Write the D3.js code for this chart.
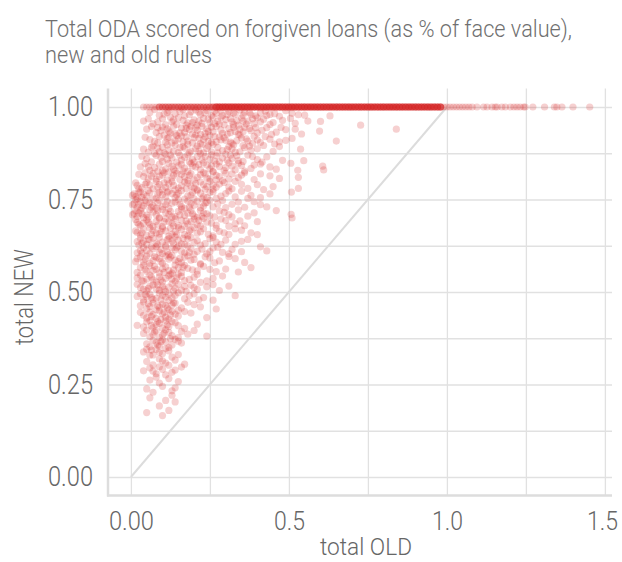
<!DOCTYPE html>
<html><head><meta charset="utf-8">
<script src="https://cdn.jsdelivr.net/npm/d3@7/dist/d3.min.js"></script>
<style>
html,body{margin:0;padding:0;background:#fff;}
svg text{font-family:Roboto,"Liberation Sans Narrow",sans-serif;font-weight:300;fill:#666;}
</style></head>
<body>
<svg id="chart" width="622" height="562"></svg>
<script>
// ---- data ----
const titleLines = ["Total ODA scored on forgiven loans (as % of face value),", "new and old rules"];
const xTickValues = [0, 0.5, 1.0, 1.5];
const xTickLabels = ["0.00", "0.5", "1.0", "1.5"];
const xMinorTicks = [0.25, 0.75, 1.25];
const yTickValues = [0, 0.25, 0.5, 0.75, 1.0];
const yTickLabels = ["0.00", "0.25", "0.50", "0.75", "1.00"];
const yMinorTicks = [0.125, 0.375, 0.625, 0.875];
const diagonal = [[0, 0], [1, 1]];

// loans scored at 100% under the new rules: old-rule score and how many loans share it
const rowOld = [0.04,0.05,0.06,0.07,0.08,
  0.09,0.10,0.11,0.12,0.13,0.14,0.15,0.16,0.17,0.18,0.19,0.20,0.21,0.22,0.23,0.24,0.25,0.26,
  0.27,0.28,0.29,0.30,0.31,0.32,0.33,0.34,0.35,0.36,0.37,0.38,0.39,0.40,0.41,0.42,0.43,0.44,0.45,0.46,0.47,0.48,0.49,0.50,
  0.51,0.52,0.53,0.54,0.55,0.56,0.57,0.58,0.59,0.60,0.61,0.62,0.63,0.64,0.65,0.66,0.67,0.68,0.69,0.70,0.71,0.72,0.73,0.74,
  0.75,0.76,0.77,0.78,0.79,0.80,0.81,0.82,0.83,0.84,0.85,0.86,0.87,0.88,0.89,0.90,0.91,0.92,0.93,0.94,0.95,0.96,0.97,0.98,
  0.99,1.00,1.01,1.02,1.03,1.04,1.05,1.06,1.07,1.08,
  1.095,1.116,1.127,1.143,1.153,1.159,1.174,1.185,1.201,1.212,1.222,1.232,1.243,1.248,1.272,1.309,1.340,1.348,1.364,1.399,1.452];
const rowCount = [1,1,1,1,1,
  3,3,3,3,3,3,3,3,3,3,3,3,3,3,3,3,3,3,
  6,6,6,6,6,6,6,6,6,6,6,6,6,6,6,6,6,6,6,6,6,6,6,6,
  6,6,6,6,6,6,6,6,6,6,6,6,6,6,6,6,6,6,6,6,6,6,6,6,
  6,6,6,6,6,6,6,6,6,6,6,6,6,6,6,6,6,6,6,6,6,6,6,6,
  1,1,1,1,1,1,1,1,1,1,
  1,1,1,1,1,1,1,1,1,1,1,1,1,1,1,1,1,1,1,1,1];

// loans scored below 100% under the new rules: [old score, new score]
const cloudPoints = [
[0.06,0.985],[0.09,0.978],[0.12,0.99],[0.14,0.982],[0.17,0.976],[0.19,0.987],[0.22,0.98],[0.24,0.991],[0.27,0.983],[0.29,0.977],[0.31,0.988],[0.33,0.981],[0.36,0.986],[0.38,0.979],[0.41,0.984],[0.44,0.98],[0.47,0.975],[0.51,0.983],[0.55,0.978],[0.63,0.976],
[0.04,0.962],[0.07,0.955],[0.10,0.968],[0.11,0.952],[0.13,0.96],[0.15,0.971],[0.18,0.957],[0.20,0.965],[0.21,0.951],[0.23,0.969],[0.25,0.958],[0.26,0.973],[0.28,0.954],[0.30,0.966],[0.32,0.96],[0.34,0.951],[0.35,0.97],[0.37,0.962],[0.39,0.955],[0.42,0.967],[0.45,0.958],[0.48,0.964],[0.52,0.956],[0.60,0.961],[0.727,0.951],
[0.05,0.94],[0.08,0.931],[0.10,0.946],[0.12,0.935],[0.14,0.928],[0.16,0.943],[0.17,0.932],[0.19,0.948],[0.21,0.937],[0.22,0.926],[0.24,0.941],[0.26,0.933],[0.27,0.947],[0.29,0.929],[0.31,0.942],[0.33,0.934],[0.34,0.926],[0.36,0.945],[0.38,0.936],[0.40,0.93],[0.43,0.944],[0.46,0.932],[0.49,0.939],[0.54,0.927],[0.597,0.935],[0.84,0.94],
[0.06,0.912],[0.09,0.92],[0.11,0.905],[0.12,0.918],[0.13,0.903],[0.15,0.914],[0.16,0.922],[0.18,0.908],[0.20,0.917],[0.22,0.901],[0.23,0.912],[0.25,0.923],[0.27,0.906],[0.28,0.919],[0.30,0.91],[0.32,0.902],[0.35,0.916],[0.37,0.908],[0.39,0.921],[0.41,0.904],[0.44,0.913],[0.47,0.906],[0.51,0.915],[0.65,0.908],
[0.04,0.886],[0.07,0.894],[0.09,0.879],[0.10,0.891],[0.12,0.884],[0.14,0.897],[0.15,0.877],[0.17,0.889],[0.19,0.881],[0.21,0.895],[0.23,0.876],[0.24,0.888],[0.26,0.899],[0.29,0.882],[0.31,0.893],[0.33,0.878],[0.36,0.89],[0.38,0.883],[0.42,0.896],[0.45,0.88],[0.537,0.886],
[0.05,0.86],[0.08,0.869],[0.10,0.853],[0.11,0.872],[0.13,0.862],[0.16,0.857],[0.18,0.871],[0.20,0.851],[0.21,0.866],[0.22,0.874],[0.25,0.859],[0.27,0.868],[0.28,0.852],[0.30,0.873],[0.32,0.861],[0.34,0.855],[0.37,0.87],[0.40,0.858],[0.43,0.865],[0.48,0.856],[0.547,0.855],
[0.03,0.838],[0.06,0.829],[0.09,0.845],[0.11,0.833],[0.12,0.848],[0.14,0.827],[0.15,0.841],[0.17,0.835],[0.19,0.847],[0.22,0.831],[0.24,0.843],[0.26,0.826],[0.28,0.839],[0.31,0.849],[0.33,0.83],[0.35,0.842],[0.38,0.834],[0.41,0.846],[0.46,0.832],[0.506,0.848],[0.528,0.829],[0.607,0.84],[0.61,0.83],
[0.04,0.812],[0.07,0.821],[0.08,0.805],[0.10,0.816],[0.12,0.824],[0.13,0.808],[0.16,0.818],[0.18,0.802],[0.19,0.82],[0.21,0.81],[0.23,0.823],[0.25,0.806],[0.27,0.815],[0.29,0.801],[0.32,0.819],[0.34,0.809],[0.36,0.822],[0.39,0.804],[0.44,0.814],[0.53,0.81],
[0.02,0.788],[0.05,0.796],[0.07,0.779],[0.09,0.791],[0.11,0.783],[0.13,0.798],[0.14,0.776],[0.16,0.787],[0.18,0.794],[0.20,0.781],[0.22,0.797],[0.24,0.785],[0.26,0.778],[0.28,0.792],[0.31,0.784],[0.33,0.799],[0.37,0.78],[0.40,0.79],[0.42,0.777],[0.53,0.78],
[0.01,0.765],[0.02,0.752],[0.03,0.771],[0.05,0.759],[0.06,0.768],[0.08,0.754],[0.10,0.763],[0.12,0.773],[0.14,0.756],[0.15,0.767],[0.17,0.751],[0.19,0.762],[0.21,0.774],[0.23,0.758],[0.25,0.769],[0.27,0.753],[0.30,0.766],[0.33,0.757],[0.35,0.772],[0.38,0.761],[0.41,0.755],[0.508,0.77],
[0.01,0.738],[0.02,0.729],[0.03,0.745],[0.04,0.733],[0.06,0.741],[0.08,0.727],[0.09,0.748],[0.11,0.736],[0.12,0.726],[0.14,0.743],[0.16,0.731],[0.18,0.746],[0.20,0.735],[0.22,0.728],[0.24,0.742],[0.26,0.73],[0.29,0.747],[0.32,0.737],[0.36,0.729],[0.39,0.744],[0.43,0.73],
[0.01,0.712],[0.02,0.704],[0.03,0.72],[0.05,0.708],[0.07,0.716],[0.09,0.701],[0.10,0.723],[0.12,0.71],[0.13,0.703],[0.15,0.718],[0.17,0.707],[0.19,0.721],[0.21,0.702],[0.23,0.714],[0.25,0.706],[0.28,0.719],[0.31,0.709],[0.34,0.722],[0.37,0.705],[0.46,0.72],[0.507,0.71],[0.51,0.70],
[0.02,0.688],[0.03,0.679],[0.05,0.695],[0.06,0.683],[0.08,0.691],[0.10,0.677],[0.11,0.698],[0.13,0.686],[0.15,0.68],[0.16,0.694],[0.18,0.684],[0.20,0.697],[0.22,0.678],[0.24,0.689],[0.27,0.681],[0.30,0.693],[0.33,0.685],[0.36,0.679],[0.40,0.69],
[0.02,0.661],[0.04,0.67],[0.05,0.653],[0.07,0.666],[0.09,0.657],[0.10,0.672],[0.12,0.651],[0.14,0.663],[0.15,0.674],[0.17,0.655],[0.19,0.668],[0.21,0.659],[0.23,0.671],[0.26,0.652],[0.28,0.664],[0.31,0.656],[0.35,0.667],[0.38,0.66],[0.40,0.655],
[0.02,0.636],[0.03,0.645],[0.05,0.628],[0.06,0.641],[0.08,0.632],[0.09,0.647],[0.11,0.626],[0.13,0.638],[0.14,0.649],[0.16,0.63],[0.18,0.643],[0.20,0.634],[0.22,0.627],[0.25,0.644],[0.27,0.635],[0.30,0.64],[0.33,0.629],[0.37,0.642],
[0.03,0.612],[0.04,0.62],[0.06,0.604],[0.07,0.617],[0.09,0.608],[0.11,0.622],[0.12,0.601],[0.14,0.614],[0.15,0.624],[0.17,0.606],[0.19,0.618],[0.21,0.61],[0.24,0.603],[0.26,0.619],[0.29,0.607],[0.32,0.615],[0.35,0.609],[0.41,0.622],[0.43,0.611],
[0.02,0.59],[0.04,0.581],[0.05,0.597],[0.07,0.585],[0.08,0.593],[0.10,0.578],[0.12,0.589],[0.13,0.599],[0.15,0.582],[0.17,0.594],[0.19,0.586],[0.22,0.577],[0.25,0.592],[0.28,0.584],[0.31,0.596],[0.36,0.58],
[0.03,0.566],[0.05,0.556],[0.06,0.571],[0.08,0.561],[0.09,0.552],[0.11,0.568],[0.12,0.558],[0.14,0.573],[0.16,0.553],[0.18,0.564],[0.21,0.557],[0.23,0.569],[0.27,0.555],[0.30,0.562],[0.38,0.566],
[0.02,0.538],[0.04,0.529],[0.06,0.546],[0.07,0.533],[0.09,0.541],[0.10,0.527],[0.12,0.544],[0.13,0.535],[0.15,0.548],[0.17,0.531],[0.20,0.54],[0.22,0.526],[0.26,0.537],[0.29,0.543],
[0.03,0.512],[0.05,0.503],[0.07,0.519],[0.08,0.508],[0.10,0.515],[0.11,0.501],[0.13,0.522],[0.14,0.51],[0.16,0.505],[0.19,0.518],[0.21,0.507],[0.24,0.514],[0.28,0.504],[0.31,0.516],
[0.02,0.488],[0.04,0.479],[0.06,0.494],[0.08,0.483],[0.09,0.497],[0.11,0.486],[0.12,0.477],[0.14,0.491],[0.17,0.482],[0.20,0.495],[0.23,0.485],[0.26,0.478],[0.33,0.49],
[0.03,0.463],[0.05,0.455],[0.07,0.47],[0.09,0.459],[0.10,0.467],[0.12,0.452],[0.13,0.465],[0.16,0.457],[0.18,0.472],[0.22,0.46],[0.27,0.454],
[0.04,0.437],[0.06,0.446],[0.08,0.429],[0.10,0.441],[0.11,0.432],[0.13,0.448],[0.15,0.435],[0.19,0.443],[0.24,0.431],
[0.02,0.41],[0.05,0.419],[0.07,0.404],[0.09,0.415],[0.11,0.422],[0.12,0.407],[0.14,0.417],[0.17,0.402],[0.21,0.413],
[0.04,0.388],[0.06,0.379],[0.08,0.395],[0.10,0.384],[0.12,0.391],[0.15,0.377],[0.18,0.386],[0.20,0.396],[0.24,0.381],
[0.05,0.36],[0.07,0.369],[0.09,0.354],[0.11,0.365],[0.13,0.357],[0.14,0.372],[0.16,0.362],
[0.04,0.338],[0.06,0.329],[0.08,0.345],[0.10,0.334],[0.12,0.341],[0.15,0.331],
[0.05,0.312],[0.07,0.303],[0.09,0.319],[0.11,0.308],[0.14,0.316],[0.17,0.305],
[0.04,0.287],[0.06,0.295],[0.08,0.279],[0.10,0.291],[0.13,0.283],[0.16,0.297],
[0.06,0.262],[0.08,0.27],[0.09,0.254],[0.12,0.266],[0.15,0.258],
[0.05,0.238],[0.07,0.229],[0.10,0.245],[0.13,0.233],[0.14,0.241],
[0.06,0.214],[0.11,0.207],[0.13,0.221],[0.14,0.203],
[0.05,0.174],[0.09,0.192],[0.10,0.166],[0.12,0.18]
];

// second pass over the denser parts of the cloud
const cloudPointsDense = [
[0.075,0.993],[0.105,0.981],[0.155,0.988],[0.185,0.979],[0.205,0.992],[0.235,0.984],[0.255,0.977],[0.285,0.99],[0.305,0.98],[0.345,0.992],[0.375,0.985],[0.395,0.976],[0.425,0.989],[0.455,0.982],[0.49,0.99],[0.53,0.979],
[0.055,0.968],[0.085,0.96],[0.125,0.972],[0.145,0.953],[0.165,0.964],[0.195,0.958],[0.225,0.956],[0.245,0.967],[0.275,0.962],[0.295,0.952],[0.315,0.969],[0.335,0.963],[0.365,0.954],[0.385,0.968],[0.41,0.96],[0.44,0.953],[0.505,0.969],[0.56,0.962],
[0.065,0.947],[0.095,0.936],[0.115,0.941],[0.135,0.948],[0.155,0.93],[0.185,0.939],[0.205,0.944],[0.235,0.929],[0.255,0.946],[0.285,0.938],[0.305,0.927],[0.325,0.945],[0.355,0.933],[0.375,0.942],[0.415,0.937],[0.445,0.926],[0.475,0.945],[0.52,0.94],
[0.045,0.918],[0.075,0.907],[0.105,0.924],[0.14,0.909],[0.175,0.919],[0.195,0.903],[0.215,0.915],[0.245,0.907],[0.265,0.92],[0.295,0.917],[0.315,0.905],[0.345,0.924],[0.365,0.914],[0.385,0.902],[0.425,0.92],[0.455,0.9],[0.49,0.91],
[0.055,0.878],[0.085,0.889],[0.115,0.897],[0.135,0.88],[0.165,0.893],[0.185,0.876],[0.205,0.887],[0.225,0.898],[0.255,0.879],[0.275,0.891],[0.305,0.885],[0.325,0.898],[0.345,0.879],[0.375,0.894],[0.40,0.887],[0.47,0.893],
[0.035,0.867],[0.065,0.852],[0.095,0.863],[0.125,0.87],[0.145,0.851],[0.17,0.864],[0.195,0.858],[0.235,0.866],[0.265,0.854],[0.29,0.862],[0.315,0.87],[0.355,0.853],[0.385,0.866],[0.415,0.851],
[0.045,0.847],[0.075,0.836],[0.10,0.828],[0.13,0.84],[0.16,0.845],[0.18,0.826],[0.205,0.838],[0.23,0.849],[0.25,0.833],[0.27,0.846],[0.295,0.828],[0.32,0.84],[0.36,0.827],[0.39,0.843],[0.44,0.838],
[0.025,0.818],[0.055,0.806],[0.09,0.813],[0.115,0.803],[0.145,0.821],[0.17,0.811],[0.20,0.803],[0.22,0.817],[0.24,0.808],[0.26,0.824],[0.28,0.812],[0.31,0.805],[0.35,0.816],[0.41,0.819],[0.47,0.807],
[0.015,0.795],[0.035,0.782],[0.06,0.789],[0.08,0.799],[0.10,0.776],[0.12,0.792],[0.15,0.781],[0.17,0.797],[0.19,0.786],[0.21,0.777],[0.23,0.79],[0.25,0.799],[0.27,0.783],[0.295,0.796],[0.32,0.779],[0.35,0.791],[0.45,0.785],
[0.015,0.758],[0.025,0.769],[0.04,0.764],[0.07,0.751],[0.09,0.77],[0.11,0.757],[0.13,0.766],[0.16,0.774],[0.18,0.76],[0.20,0.752],[0.22,0.767],[0.24,0.755],[0.26,0.771],[0.285,0.759],[0.31,0.773],[0.37,0.753],[0.44,0.765],
[0.015,0.749],[0.025,0.737],[0.035,0.727],[0.05,0.74],[0.07,0.733],[0.10,0.731],[0.13,0.74],[0.15,0.749],[0.17,0.726],[0.19,0.739],[0.21,0.745],[0.23,0.733],[0.25,0.748],[0.275,0.738],[0.30,0.728],[0.34,0.743],[0.41,0.736],
[0.015,0.72],[0.025,0.713],[0.04,0.701],[0.06,0.722],[0.08,0.709],[0.11,0.714],[0.14,0.704],[0.16,0.724],[0.18,0.713],[0.20,0.705],[0.22,0.72],[0.24,0.711],[0.265,0.703],[0.295,0.715],[0.32,0.703],[0.39,0.714],
[0.015,0.696],[0.04,0.686],[0.07,0.677],[0.09,0.699],[0.12,0.69],[0.14,0.698],[0.17,0.678],[0.19,0.69],[0.21,0.682],[0.23,0.699],[0.255,0.686],[0.285,0.697],[0.31,0.678],[0.345,0.692],
[0.03,0.654],[0.06,0.673],[0.08,0.66],[0.11,0.665],[0.13,0.656],[0.16,0.669],[0.18,0.652],[0.20,0.674],[0.22,0.663],[0.245,0.656],[0.27,0.672],[0.295,0.66],[0.33,0.671],
[0.025,0.627],[0.04,0.638],[0.07,0.646],[0.10,0.635],[0.12,0.644],[0.15,0.64],[0.17,0.628],[0.19,0.648],[0.21,0.639],[0.235,0.631],[0.26,0.647],[0.285,0.629],[0.35,0.637],
[0.02,0.606],[0.05,0.613],[0.08,0.623],[0.10,0.604],[0.13,0.619],[0.16,0.61],[0.18,0.624],[0.20,0.602],[0.225,0.616],[0.25,0.609],[0.275,0.621],[0.31,0.603],
[0.03,0.595],[0.06,0.578],[0.09,0.59],[0.11,0.597],[0.14,0.586],[0.16,0.579],[0.18,0.598],[0.20,0.588],[0.235,0.595],[0.265,0.579],[0.33,0.59],
[0.02,0.553],[0.04,0.572],[0.07,0.558],[0.10,0.563],[0.13,0.551],[0.15,0.566],[0.17,0.572],[0.195,0.56],[0.22,0.574],[0.25,0.561],[0.34,0.554],
[0.03,0.546],[0.05,0.535],[0.08,0.527],[0.11,0.537],[0.14,0.529],[0.16,0.542],[0.185,0.534],[0.21,0.548],[0.24,0.53],
[0.02,0.521],[0.04,0.508],[0.06,0.516],[0.09,0.505],[0.12,0.513],[0.15,0.521],[0.175,0.502],[0.20,0.512],[0.26,0.52],
[0.03,0.496],[0.05,0.487],[0.07,0.48],[0.10,0.491],[0.13,0.484],[0.15,0.498],[0.185,0.49],[0.215,0.479],
[0.04,0.473],[0.06,0.461],[0.08,0.452],[0.11,0.464],[0.14,0.47],[0.15,0.451],[0.20,0.466],
[0.03,0.445],[0.05,0.43],[0.07,0.439],[0.09,0.449],[0.12,0.427],[0.14,0.44],[0.17,0.447],
[0.04,0.406],[0.06,0.423],[0.08,0.412],[0.10,0.403],[0.13,0.42],[0.15,0.409],
[0.05,0.397],[0.07,0.386],[0.09,0.377],[0.11,0.398],[0.13,0.382],[0.16,0.393],
[0.06,0.352],[0.08,0.363],[0.10,0.371],[0.12,0.35],[0.15,0.367],
[0.05,0.345],[0.07,0.33],[0.09,0.337],[0.11,0.347],[0.13,0.324],[0.10,0.314],[0.12,0.302],
[0.07,0.286],[0.09,0.298],[0.11,0.276],[0.14,0.289]
];

// third pass: the darkest clumps of the cloud
const cloudPointsCore = [
[0.115,0.985],[0.165,0.993],[0.215,0.986],[0.265,0.989],[0.325,0.984],[0.355,0.978],[0.43,0.977],
[0.135,0.965],[0.175,0.951],[0.215,0.962],[0.265,0.955],[0.285,0.972],[0.325,0.953],[0.355,0.962],[0.40,0.971],
[0.085,0.944],[0.125,0.93],[0.175,0.942],[0.195,0.927],[0.225,0.947],[0.245,0.934],[0.315,0.931],[0.345,0.94],[0.395,0.944],
[0.085,0.903],[0.115,0.915],[0.145,0.923],[0.165,0.906],[0.205,0.925],[0.235,0.919],[0.255,0.904],[0.285,0.911],[0.335,0.909],[0.40,0.911],
[0.065,0.891],[0.105,0.876],[0.155,0.89],[0.18,0.899],[0.215,0.881],[0.245,0.895],[0.275,0.876],[0.32,0.887],[0.355,0.896],
[0.075,0.874],[0.115,0.859],[0.155,0.869],[0.185,0.852],[0.225,0.857],[0.255,0.871],[0.305,0.856],[0.335,0.868],
[0.055,0.839],[0.085,0.826],[0.135,0.832],[0.165,0.827],[0.195,0.84],[0.215,0.844],[0.255,0.841],[0.30,0.836],[0.34,0.848],
[0.045,0.822],[0.065,0.813],[0.105,0.822],[0.135,0.815],[0.155,0.804],[0.185,0.815],[0.235,0.819],[0.27,0.803],[0.30,0.821],
[0.025,0.779],[0.045,0.791],[0.085,0.784],[0.105,0.795],[0.135,0.788],[0.175,0.779],[0.205,0.793],[0.235,0.778],[0.26,0.789],
[0.005,0.761],[0.035,0.756],[0.055,0.774],[0.085,0.765],[0.115,0.77],[0.145,0.762],[0.195,0.769],[0.225,0.752],
[0.005,0.736],[0.045,0.747],[0.065,0.729],[0.085,0.74],[0.115,0.745],[0.155,0.737],[0.185,0.729],[0.235,0.74],
[0.005,0.709],[0.035,0.711],[0.055,0.702],[0.085,0.72],[0.125,0.718],[0.155,0.708],[0.195,0.711],[0.225,0.704],
[0.025,0.683],[0.055,0.689],[0.085,0.681],[0.105,0.69],[0.135,0.679],[0.175,0.692],[0.215,0.693],
[0.015,0.665],[0.035,0.66],[0.065,0.656],[0.095,0.664],[0.125,0.672],[0.145,0.655],[0.185,0.665],
[0.035,0.632],[0.055,0.642],[0.085,0.628],[0.115,0.641],[0.135,0.631],[0.165,0.645],
[0.035,0.605],[0.065,0.622],[0.095,0.615],[0.115,0.608],[0.145,0.62],[0.185,0.607],
[0.015,0.582],[0.045,0.589],[0.075,0.596],[0.095,0.582],[0.125,0.594],[0.155,0.591],
[0.045,0.561],[0.075,0.569],[0.105,0.553],[0.135,0.56],[0.165,0.567],
[0.035,0.53],[0.065,0.54],[0.095,0.533],[0.125,0.548],[0.145,0.538],
[0.055,0.51],[0.085,0.519],[0.105,0.508],[0.135,0.503],[0.17,0.515],
[0.045,0.493],[0.065,0.485],[0.095,0.479],[0.12,0.494],
[0.055,0.468],[0.085,0.463],[0.115,0.457],[0.135,0.471],
[0.065,0.434],[0.095,0.426],[0.105,0.445],[0.125,0.438],
[0.065,0.409],[0.085,0.42],[0.115,0.411],
[0.075,0.392],[0.105,0.389],[0.125,0.374],
[0.085,0.357],[0.095,0.366],[0.065,0.343]
];

// ---- build the point table ----
const points = [];
rowOld.forEach((v, i) => { for (let k = 0; k < rowCount[i]; k++) points.push({old: v, nw: 1.0}); });
cloudPoints.concat(cloudPointsDense, cloudPointsCore).forEach(p => points.push({old: p[0], nw: p[1]}));

// ---- drawing ----
const svg = d3.select("#chart");
const x = d3.scaleLinear().domain([-0.0725, 1.5225]).range([108, 612]);
const y = d3.scaleLinear().domain([-0.05, 1.05]).range([495.5, 88.5]);
const gridColor = "#e1e1e1";

// gridlines (major + minor)
const gx = svg.append("g").attr("transform", `translate(0,${y.range()[0]})`)
  .call(d3.axisBottom(x).tickValues(xTickValues.concat(xMinorTicks)).tickSize(-(y.range()[0] - y.range()[1])).tickFormat(""));
gx.select(".domain").remove();
gx.selectAll(".tick line").attr("stroke", gridColor).attr("stroke-width", 1.3);
const gy = svg.append("g").attr("transform", `translate(${x.range()[0]},0)`)
  .call(d3.axisLeft(y).tickValues(yTickValues.concat(yMinorTicks)).tickSize(-(x.range()[1] - x.range()[0])).tickFormat(""));
gy.select(".domain").remove();
gy.selectAll(".tick line").attr("stroke", gridColor).attr("stroke-width", 1.3);

// diagonal reference line
svg.append("path").datum(diagonal)
  .attr("d", d3.line().x(d => x(d[0])).y(d => y(d[1])))
  .attr("fill", "none").attr("stroke", "#dcdcdc").attr("stroke-width", 2);

// spines
svg.append("line").attr("x1", x.range()[0]).attr("x2", x.range()[0]).attr("y1", y.range()[1]).attr("y2", y.range()[0] + 1)
  .attr("stroke", "#dddddd").attr("stroke-width", 2.5);
svg.append("line").attr("x1", x.range()[0] - 1).attr("x2", x.range()[1]).attr("y1", y.range()[0]).attr("y2", y.range()[0])
  .attr("stroke", "#dddddd").attr("stroke-width", 2.5);

// points
svg.append("g").selectAll("circle").data(points).join("circle")
  .attr("cx", d => x(d.old)).attr("cy", d => y(d.nw)).attr("r", 3.6)
  .attr("fill", "#d62728").attr("fill-opacity", 0.22);

// tick labels through axes
const labelFont = 'Roboto,"Liberation Sans Narrow",sans-serif';
const ax = svg.append("g").attr("transform", `translate(0,${y.range()[0]})`)
  .call(d3.axisBottom(x).tickValues(xTickValues).tickSize(0).tickPadding(16).tickFormat((d, i) => xTickLabels[i]));
ax.select(".domain").remove();
ax.selectAll("text").attr("font-size", 26).style("fill", "#666").style("font-family", labelFont).style("font-weight", 300)
  .attr("textLength", (d, i) => xTickLabels[i].length === 4 ? 45 : 31).attr("lengthAdjust", "spacingAndGlyphs")
  .attr("dx", (d, i) => i === xTickLabels.length - 1 ? -3 : 0);
const ay = svg.append("g").attr("transform", `translate(${x.range()[0]},0)`)
  .call(d3.axisLeft(y).tickValues(yTickValues).tickSize(0).tickPadding(15).tickFormat((d, i) => yTickLabels[i]));
ay.select(".domain").remove();
ay.selectAll("text").attr("font-size", 27).style("fill", "#666").style("font-family", labelFont).style("font-weight", 300)
  .attr("textLength", 45).attr("lengthAdjust", "spacingAndGlyphs");

// axis titles
svg.append("text").attr("x", 366).attr("y", 555).attr("text-anchor", "middle").attr("font-size", 24)
  .attr("textLength", 92).attr("lengthAdjust", "spacingAndGlyphs").text("total OLD");
svg.append("text").attr("transform", "translate(33,297) rotate(-90)").attr("text-anchor", "middle").attr("font-size", 25)
  .attr("textLength", 96).attr("lengthAdjust", "spacingAndGlyphs").text("total NEW");

// title
svg.append("text").attr("x", 45).attr("y", 37).attr("font-size", 23).style("fill", "#707070").attr("textLength", 527).attr("lengthAdjust", "spacingAndGlyphs").text(titleLines[0]);
svg.append("text").attr("x", 45).attr("y", 63).attr("font-size", 23).style("fill", "#707070").attr("textLength", 167).attr("lengthAdjust", "spacingAndGlyphs").text(titleLines[1]);
</script>
</body></html>
